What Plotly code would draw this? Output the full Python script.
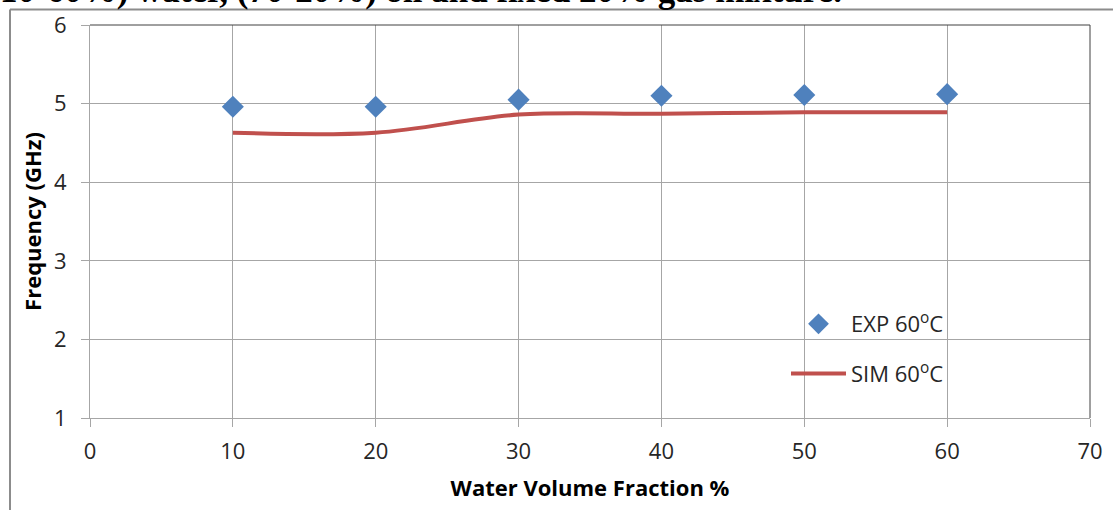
import plotly.graph_objects as go

# Water volume fraction (%) and measured / simulated resonant frequency (GHz)
water_fraction = [10, 20, 30, 40, 50, 60]
exp_freq = [4.96, 4.96, 5.05, 5.10, 5.11, 5.12]
sim_freq = [4.63, 4.63, 4.86, 4.87, 4.89, 4.89]

x_ticks = [0, 10, 20, 30, 40, 50, 60, 70]
y_ticks = [1, 2, 3, 4, 5, 6]

W, H = 1113, 510
L, R, T, B = 90, 23, 25, 92
pw, ph = W - L - R, H - T - B


def px_x(p):
    return (p - L) / pw


def px_y(p):
    return (H - B - p) / ph


grid = "#a6a6a6"
tick_font = dict(family="Open Sans", size=22, color="#262626")
title_font = dict(family="Open Sans", size=22, color="#000000")

fig = go.Figure()
fig.add_trace(go.Scatter(
    x=water_fraction, y=exp_freq, mode="markers", name="EXP 60<sup>o</sup>C",
    marker=dict(symbol="diamond", size=17, color="#4f81bd"),
    legendgroup="a",
))
fig.add_trace(go.Scatter(
    x=water_fraction, y=sim_freq, mode="lines", name="SIM 60<sup>o</sup>C",
    line=dict(color="#c0504d", width=4, shape="spline", smoothing=1),
    legendgroup="b",
))

fig.update_layout(
    width=W, height=H,
    margin=dict(l=L, r=R, t=T, b=B, autoexpand=False),
    paper_bgcolor="white", plot_bgcolor="white",
    showlegend=True,
    legend=dict(
        x=px_x(786), y=px_y(303), xanchor="left", yanchor="top",
        bgcolor="rgba(0,0,0,0)", font=dict(family="Open Sans", size=22, color="#262626"),
        itemwidth=55, tracegroupgap=18, traceorder="grouped",
    ),
    xaxis=dict(
        range=[0, 70], tickvals=x_ticks, showgrid=True, gridcolor=grid, gridwidth=1,
        showline=True, linecolor=grid, linewidth=1, ticks="outside", ticklen=8,
        tickcolor=grid, tickfont=tick_font, ticklabelstandoff=6, zeroline=False,
        automargin=False,
        title=dict(text="<b>Water Volume Fraction %</b>", font=title_font, standoff=16),
    ),
    yaxis=dict(
        range=[1, 6], tickvals=y_ticks, showgrid=True, gridcolor=grid, gridwidth=1,
        showline=True, linecolor=grid, linewidth=1, ticks="outside", ticklen=8,
        tickcolor=grid, tickfont=tick_font, ticklabelstandoff=10, zeroline=False,
        automargin=False,
        title=dict(text="<b>Frequency (GHz)</b>", font=title_font, standoff=6),
    ),
    shapes=[
        # plot-area border on top and right
        dict(type="line", xref="paper", yref="paper", x0=0, x1=1, y0=1, y1=1,
             line=dict(color="#404040", width=1)),
        dict(type="line", xref="paper", yref="paper", x0=1, x1=1, y0=0, y1=1,
             line=dict(color="#404040", width=1)),
        # outer frame of the chart
        dict(type="line", xref="paper", yref="paper", x0=px_x(10), x1=px_x(1120),
             y0=px_y(9.5), y1=px_y(9.5), line=dict(color="#8c8c8c", width=2)),
        dict(type="line", xref="paper", yref="paper", x0=px_x(10), x1=px_x(10),
             y0=px_y(9.5), y1=px_y(520), line=dict(color="#8c8c8c", width=2)),
    ],
    annotations=[
        dict(text="<b>10-60%) water, (70-20%) oil and fixed 20% gas mixture.</b>",
             xref="paper", yref="paper", x=px_x(-2), y=px_y(12.5),
             xanchor="left", yanchor="bottom", showarrow=False,
             font=dict(family="Liberation Serif", size=35, color="#000000")),
    ],
)

fig.write_html("out.html")
